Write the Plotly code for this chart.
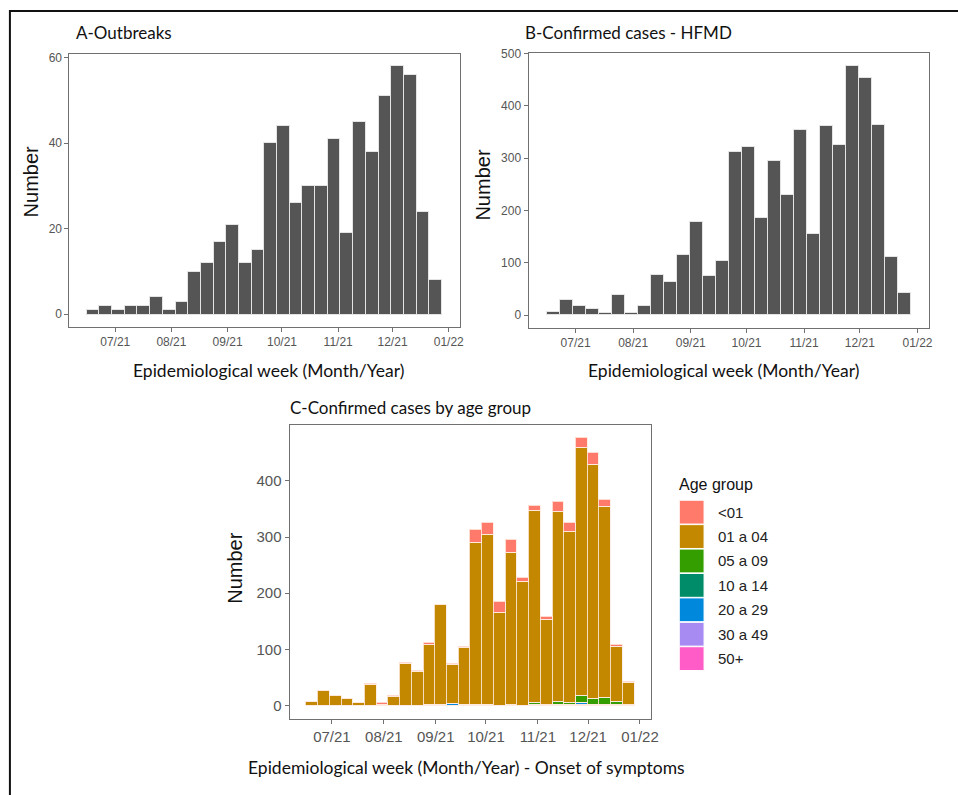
import plotly.graph_objects as go

W, H = 958, 795

weeks = ["2021-06-19", "2021-06-26", "2021-07-03", "2021-07-10", "2021-07-17", "2021-07-24",
         "2021-07-31", "2021-08-07", "2021-08-14", "2021-08-21", "2021-08-28", "2021-09-04",
         "2021-09-11", "2021-09-18", "2021-09-25", "2021-10-02", "2021-10-09", "2021-10-16",
         "2021-10-23", "2021-10-30", "2021-11-06", "2021-11-13", "2021-11-20", "2021-11-27",
         "2021-12-04", "2021-12-11", "2021-12-18", "2021-12-25"]

outbreaks = [1, 2, 1, 2, 2, 4, 1, 3, 10, 12, 17, 21, 12, 15, 40, 44, 26, 30, 30, 41,
             19, 45, 38, 51, 58, 56, 24, 8]

confirmed = [7, 29, 18, 12, 4, 40, 4, 18, 77, 63, 115, 179, 76, 104, 312, 323, 186, 295,
             231, 355, 156, 362, 325, 478, 455, 364, 111, 42]

age_lt01 = [0, 0, 0, 0, 0, 1, 2, 2, 1, 1, 2, 1, 1, 3, 23, 21, 19, 24, 8, 9, 5, 19, 15, 18, 21, 13, 3, 2]
age_0104 = [6, 27, 18, 12, 4, 37, 2, 16, 75, 60, 108, 178, 70, 101, 288, 303, 165, 270, 220, 342,
            151, 338, 306, 441, 417, 339, 98, 39]
age_0509 = [0, 0, 0, 0, 0, 0, 0, 0, 0, 0, 0, 0, 0, 0, 0, 0, 0, 1, 0, 2, 2, 4, 3, 13, 10, 12, 6, 1]
age_1014 = [0, 0, 0, 0, 0, 0, 0, 0, 0, 0, 0, 0, 0, 0, 0, 0, 0, 0, 0, 1, 0, 0, 0, 1, 0, 0, 1, 0]
age_2029 = [0, 0, 0, 0, 0, 0, 0, 0, 0, 0, 0, 0, 3, 0, 0, 0, 0, 0, 0, 1, 0, 0, 0, 3, 2, 1, 0, 0]
age_3049 = [0, 0, 0, 0, 0, 0, 0, 0, 0, 0, 1, 1, 0, 1, 1, 1, 0, 0, 0, 0, 0, 2, 0, 1, 0, 0, 0, 0]
age_50p = [0, 0, 0, 0, 0, 0, 0, 0, 0, 0, 0, 0, 0, 0, 0, 0, 0, 0, 0, 0, 0, 0, 1, 0, 0, 1, 0, 0]

age_groups = ["<01", "01 a 04", "05 a 09", "10 a 14", "20 a 29", "30 a 49", "50+"]
age_values = [age_lt01, age_0104, age_0509, age_1014, age_2029, age_3049, age_50p]
age_colors = ["#FF7A6B", "#C48800", "#349E00", "#008C68", "#0089DC", "#A78BF2", "#FF5CC8"]

month_ticks = ["2021-07-01", "2021-08-01", "2021-09-01", "2021-10-01", "2021-11-01",
               "2021-12-01", "2022-01-01"]
month_labels = ["07/21", "08/21", "09/21", "10/21", "11/21", "12/21", "01/22"]

WEEK_MS = 7 * 24 * 3600 * 1000
XRANGE = ["2021-06-05 17:00", "2022-01-07 07:00"]


def px_x(p):
    return p / W


def px_y(p):
    return 1 - p / H


fig = go.Figure()

fig.add_trace(go.Bar(x=weeks, y=outbreaks, width=WEEK_MS, marker_color="#555555",
                     marker_line=dict(color="#e4e4e4", width=1), xaxis="x", yaxis="y",
                     showlegend=False))
fig.add_trace(go.Bar(x=weeks, y=confirmed, width=WEEK_MS, marker_color="#555555",
                     marker_line=dict(color="#e4e4e4", width=1), xaxis="x2", yaxis="y2",
                     showlegend=False))
for name, vals, col in reversed(list(zip(age_groups, age_values, age_colors))):
    fig.add_trace(go.Bar(x=weeks, y=vals, name=name, width=WEEK_MS, marker_color=col,
                         marker_line=dict(color="rgba(255,235,225,0.85)", width=1),
                         xaxis="x3", yaxis="y3", showlegend=False))

axis_common = dict(showline=True, linecolor="#707070", linewidth=1, mirror=True,
                   ticks="outside", ticklen=4, tickcolor="#707070", showgrid=False,
                   zeroline=False)
tick_font_small = dict(family="Liberation Sans, Arial", size=12, color="#555555")
tick_font_big = dict(family="Liberation Sans, Arial", size=15, color="#555555")

fig.update_layout(
    width=W, height=H, margin=dict(l=0, r=0, t=0, b=0),
    paper_bgcolor="white", plot_bgcolor="white",
    barmode="stack", bargap=0,
    xaxis=dict(domain=[px_x(70), px_x(464)], range=XRANGE, type="date",
               tickvals=month_ticks, ticktext=month_labels, tickfont=tick_font_small,
               anchor="y", **axis_common),
    yaxis=dict(domain=[px_y(323), px_y(48)], range=[-2.9, 60.9], tickvals=[0, 20, 40, 60],
               tickfont=tick_font_small, anchor="x", **axis_common),
    xaxis2=dict(domain=[px_x(533), px_x(937)], range=XRANGE, type="date",
                tickvals=month_ticks, ticktext=month_labels, tickfont=tick_font_small,
                anchor="y2", **axis_common),
    yaxis2=dict(domain=[px_y(324), px_y(47)], range=[-23.9, 501.9],
                tickvals=[0, 100, 200, 300, 400, 500], tickfont=tick_font_small,
                anchor="x2", **axis_common),
    xaxis3=dict(domain=[px_x(292), px_x(656)], range=XRANGE, type="date",
                tickvals=month_ticks, ticktext=month_labels, tickfont=tick_font_big,
                anchor="y3", **axis_common),
    yaxis3=dict(domain=[px_y(718), px_y(422)], range=[-23.2, 499.7],
                tickvals=[0, 100, 200, 300, 400], tickfont=tick_font_big,
                anchor="x3", **axis_common),
)

panel_font = dict(family="Lato, Open Sans", size=17, color="#111111")
xtitle_font = dict(family="Lato, Open Sans", size=17.5, color="#111111")
num_font = dict(family="Liberation Sans, Arial", size=20, color="#111111")

annots = [
    dict(text="A-Outbreaks", x=px_x(75), y=px_y(27), xanchor="left", yanchor="middle", font=panel_font),
    dict(text="B-Confirmed cases - HFMD", x=px_x(527), y=px_y(27), xanchor="left", yanchor="middle", font=panel_font),
    dict(text="C-Confirmed cases by age group", x=px_x(290), y=px_y(405), xanchor="left", yanchor="middle", font=panel_font),
    dict(text="Epidemiological week (Month/Year)", x=px_x(271), y=px_y(367), xanchor="center", yanchor="middle", font=xtitle_font),
    dict(text="Epidemiological week (Month/Year)", x=px_x(730), y=px_y(367), xanchor="center", yanchor="middle", font=xtitle_font),
    dict(text="Epidemiological week (Month/Year) - Onset of symptoms", x=px_x(470), y=px_y(767), xanchor="center", yanchor="middle", font=xtitle_font),
    dict(text="Number", x=px_x(31), y=px_y(177), textangle=-90, xanchor="center", yanchor="middle", font=num_font),
    dict(text="Number", x=px_x(487), y=px_y(180), textangle=-90, xanchor="center", yanchor="middle", font=num_font),
    dict(text="Number", x=px_x(237), y=px_y(567), textangle=-90, xanchor="center", yanchor="middle", font=num_font),
    dict(text="Age group", x=px_x(683), y=px_y(482), xanchor="left", yanchor="middle",
         font=dict(family="Liberation Sans, Arial", size=16, color="#111111")),
]

shapes = [
    dict(type="rect", xref="paper", yref="paper", x0=px_x(10), x1=1.02, y0=-0.02, y1=px_y(5),
         line=dict(color="#111111", width=2), fillcolor="rgba(0,0,0,0)", layer="above"),
]

for i, (name, col) in enumerate(zip(age_groups, age_colors)):
    cy = 510 + i * 24.6
    shapes.append(dict(type="rect", xref="paper", yref="paper",
                       x0=px_x(685), x1=px_x(710), y0=px_y(cy + 12), y1=px_y(cy - 12),
                       fillcolor=col, line=dict(color="white", width=1)))
    annots.append(dict(text=name, x=px_x(722), y=px_y(cy), xanchor="left", yanchor="middle",
                       font=dict(family="Liberation Sans, Arial", size=15, color="#222222")))

for a in annots:
    a.update(xref="paper", yref="paper", showarrow=False)

fig.update_layout(annotations=annots, shapes=shapes)

fig.write_html("out.html", config={"displayModeBar": False},
               post_script="document.body.style.margin='0';document.body.style.padding='0';"
                           "document.body.style.overflow='hidden';")
